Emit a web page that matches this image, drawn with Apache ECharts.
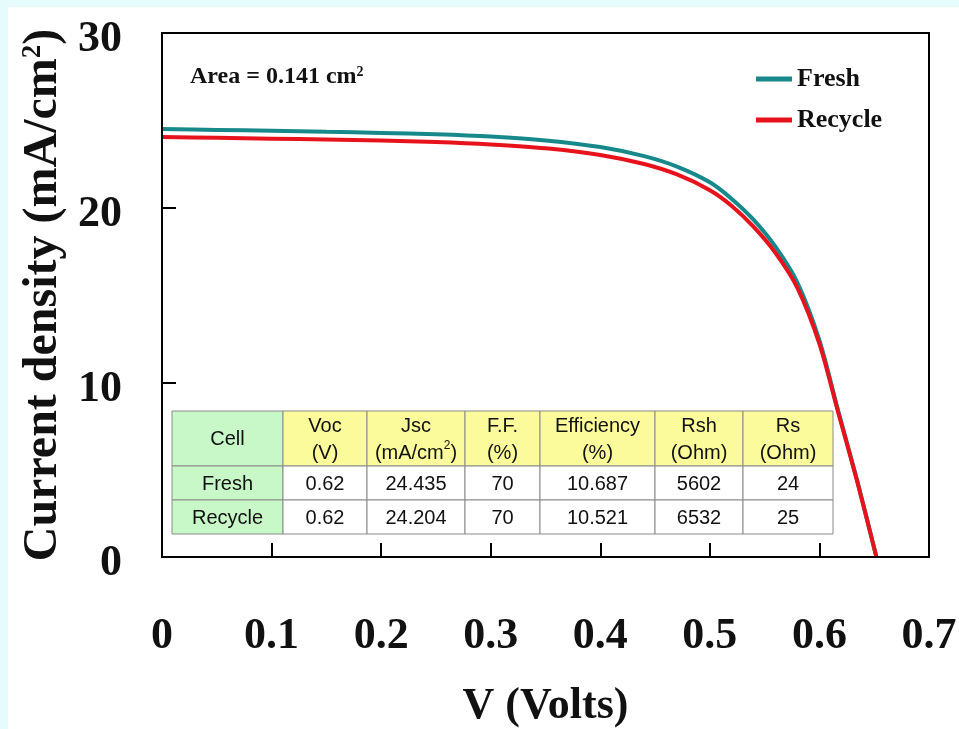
<!DOCTYPE html>
<html>
<head>
<meta charset="utf-8">
<script src="https://cdn.jsdelivr.net/npm/echarts@6/dist/echarts.min.js"></script>
<style>
html,body{margin:0;padding:0;background:#e6fcfc;}
#chart{width:959px;height:729px;}
</style>
</head>
<body>
<div id="chart"></div>
<script>
// ---- data ----
var seriesNames = ['Fresh', 'Recycle'];
var freshV = [0, 0.05, 0.10, 0.15, 0.20, 0.25, 0.30, 0.35, 0.40, 0.44, 0.47, 0.50, 0.52, 0.54, 0.56, 0.58, 0.60, 0.617, 0.635, 0.652];
var freshJ = [24.5, 24.45, 24.4, 24.34, 24.28, 24.2, 24.07, 23.85, 23.47, 22.95, 22.35, 21.45, 20.5, 19.3, 17.75, 15.7, 12.4, 8.4, 4.25, 0];
var recycleV = [0, 0.05, 0.10, 0.15, 0.20, 0.25, 0.30, 0.35, 0.40, 0.44, 0.47, 0.50, 0.52, 0.54, 0.56, 0.58, 0.60, 0.617, 0.635, 0.652];
var recycleJ = [24.05, 24.0, 23.95, 23.9, 23.84, 23.76, 23.62, 23.4, 23.02, 22.5, 21.9, 21.0, 20.1, 18.9, 17.4, 15.4, 12.2, 8.3, 4.2, 0];
var xTicks = [0, 0.1, 0.2, 0.3, 0.4, 0.5, 0.6, 0.7];
var yTicks = [0, 10, 20, 30];
var headerLine1 = ['Cell', 'Voc', 'Jsc', 'F.F.', 'Efficiency', 'Rsh', 'Rs'];
var headerLine2 = ['', '(V)', '(mA/cm{s|2})', '(%)', '(%)', '(Ohm)', '(Ohm)'];
var freshRow = ['Fresh', '0.62', '24.435', '70', '10.687', '5602', '24'];
var recycleRow = ['Recycle', '0.62', '24.204', '70', '10.521', '6532', '25'];
var areaText = 'Area = 0.141 cm';

function zip(a, b) { return a.map(function (v, i) { return [v, b[i]]; }); }

// ---- table graphics ----
var colEdges = [172, 283, 367, 465, 540, 655, 743, 833];
var rowEdges = [411, 466, 500, 534];
var green = '#c8f7c8', yellow = '#fcfb9c', border = '#8a8a8a';
var tableEls = [];
var rows = [null, freshRow, recycleRow];
for (var r = 0; r < 3; r++) {
  for (var c = 0; c < 7; c++) {
    var x0 = colEdges[c], x1 = colEdges[c + 1], y0 = rowEdges[r], y1 = rowEdges[r + 1];
    var fill = (c === 0) ? green : (r === 0 ? yellow : '#ffffff');
    tableEls.push({type: 'rect', shape: {x: x0, y: y0, width: x1 - x0, height: y1 - y0},
      style: {fill: fill, stroke: border, lineWidth: 1}, z: 50});
    var txt;
    if (r === 0) {
      txt = headerLine2[c] ? headerLine1[c] + '\n' + headerLine2[c] : headerLine1[c];
    } else {
      txt = rows[r][c];
    }
    tableEls.push({type: 'text', x: (x0 + x1) / 2, y: (y0 + y1) / 2 + 1, z: 51,
      style: {text: txt, fill: '#111', font: '20px "Liberation Sans", Arial, sans-serif',
        align: 'center', verticalAlign: 'middle', lineHeight: 27,
        rich: {s: {fontSize: 12, verticalAlign: 'top', lineHeight: 20, fill: '#111', fontFamily: 'Liberation Sans'}}}});
  }
}

var serif = '"Liberation Serif", "Times New Roman", serif';
var chart = echarts.init(document.getElementById('chart'));
chart.setOption({
  backgroundColor: '#e6fcfc',
  animation: false,
  grid: {left: 162, right: 30, top: 33, bottom: 172, show: true, borderColor: '#000', borderWidth: 2,
    backgroundColor: '#fff', containLabel: false, outerBoundsMode: 'none'},
  legend: {
    data: seriesNames, orient: 'vertical', left: 751, top: 61, itemGap: 15,
    icon: 'rect', itemWidth: 36, itemHeight: 5,
    textStyle: {fontFamily: serif, fontWeight: 'bold', fontSize: 26, color: '#111'}
  },
  xAxis: {
    type: 'value', min: xTicks[0], max: xTicks[xTicks.length - 1], interval: 0.1, z: 5,
    axisLine: {show: true, lineStyle: {color: '#000', width: 2}},
    axisTick: {show: true, inside: true, length: 14, lineStyle: {color: '#000', width: 2}},
    splitLine: {show: false},
    axisLabel: {margin: 58, color: '#111', fontFamily: serif, fontWeight: 'bold', fontSize: 44,
      formatter: function (v) { return v === 0 ? '0' : v.toFixed(1); }},
    name: 'V (Volts)', nameLocation: 'middle', nameGap: 128,
    nameTextStyle: {fontFamily: serif, fontWeight: 'bold', fontSize: 44, color: '#111', verticalAlign: 'top'}
  },
  yAxis: {
    type: 'value', min: yTicks[0], max: yTicks[yTicks.length - 1], interval: 10, z: 5,
    axisLine: {show: true, lineStyle: {color: '#000', width: 2}},
    axisTick: {show: true, inside: true, length: 14, lineStyle: {color: '#000', width: 2}},
    splitLine: {show: false},
    axisLabel: {margin: 40, color: '#111',
      formatter: function (v) { return '{v|' + v + '}'; },
      rich: {v: {fontFamily: serif, fontWeight: 'bold', fontSize: 44, color: '#111', padding: [14, 0, 0, 0]}}},
    name: '{a|Current density (mA/cm}{b|2}{a|)}', nameLocation: 'middle', nameGap: 86, nameRotate: 90,
    nameTextStyle: {
      rich: {
        a: {fontFamily: serif, fontWeight: 'bold', fontSize: 48, color: '#111'},
        b: {fontFamily: serif, fontWeight: 'bold', fontSize: 27, color: '#111', verticalAlign: 'top', lineHeight: 30}
      }
    }
  },
  series: [
    {name: seriesNames[0], type: 'line', data: zip(freshV, freshJ), smooth: 0.3, showSymbol: false,
      lineStyle: {color: '#17898a', width: 4}, itemStyle: {color: '#17898a'}, z: 3},
    {name: seriesNames[1], type: 'line', data: zip(recycleV, recycleJ), smooth: 0.3, showSymbol: false,
      lineStyle: {color: '#e8121c', width: 4}, itemStyle: {color: '#e8121c'}, z: 4}
  ],
  graphic: [
    {type: 'rect', shape: {x: 8, y: 7, width: 951, height: 722}, style: {fill: '#ffffff'}, z: -100, silent: true},
    {type: 'text', x: 190, y: 77, z: 60,
      style: {text: areaText + '{s|2}', fill: '#111', font: 'bold 24px ' + serif, verticalAlign: 'middle',
        rich: {s: {fontSize: 14, fontWeight: 'bold', fontFamily: 'Liberation Serif', verticalAlign: 'top', lineHeight: 22, fill: '#111'}}}}
  ].concat(tableEls)
});
</script>
</body>
</html>
